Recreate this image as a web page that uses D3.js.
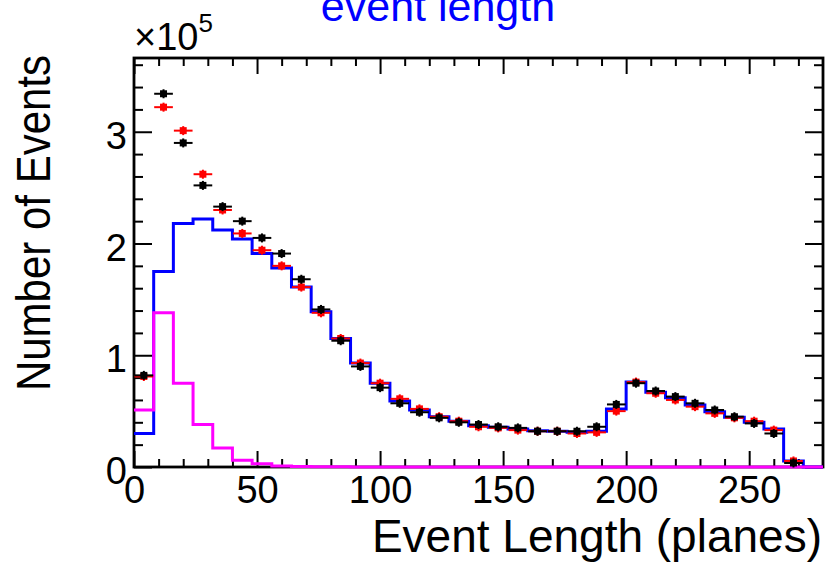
<!DOCTYPE html>
<html><head><meta charset="utf-8">
<script src="https://cdn.jsdelivr.net/npm/d3@7"></script>
<style>
body{margin:0;background:#fff}
svg{display:block}
text{font-family:"Liberation Sans",Arial,Helvetica,sans-serif}
</style>
</head><body>
<svg id="c" width="826" height="564"></svg>
<script>
// ---- data (counts per 8-plane bin) ----
const binLow = [0,8,16,24,32,40,48,56,64,72,80,88,96,104,112,120,128,136,144,152,160,168,176,184,192,200,208,216,224,232,240,248,256,264,272];
const binWidth = 8;
const dataBlack = [82000,334000,290000,252000,233000,220000,205000,191000,168000,141000,113000,90000,71000,57000,49000,44000,40000,38000,36000,35000,32000,32000,32000,36000,56000,75000,68000,63000,57000,51000,45000,39000,30000,3600,0];
const dataRed   = [81000,322000,301000,262000,230000,209000,194000,180000,161000,138000,115000,93000,75000,61000,52000,45000,41000,36000,35000,33000,32000,32000,30000,31000,50000,76000,66000,60000,54000,48000,44000,41000,33000,5400,0];
const mcBlue    = [30000,175000,218000,222000,212000,204000,191000,178000,161000,139000,115000,93000,75000,59000,51000,45000,41000,37000,35500,34000,32500,32000,31000,32000,52000,76000,67000,62000,55500,49500,44500,40000,34000,5400,0];
const mcMagenta = [51000,138000,75000,38000,17000,6000,3000,1000,500,300,200,100,100,0,0,0,0,0,0,0,0,0,0,0,0,0,0,0,0,0,0,0,0,0,0];
const xTickMajor = [0,50,100,150,200,250];
const xTickMinor = [10,20,30,40,60,70,80,90,110,120,130,140,160,170,180,190,210,220,230,240,260,270];
const yTickMajor = [0,100000,200000,300000];
const yTickMinor = [20000,40000,60000,80000,120000,140000,160000,180000,220000,240000,260000,280000,320000,340000,360000];

// ---- layout ----
const L=134, R=823, T=58, B=467;
const x = d3.scaleLinear().domain([0,280]).range([L,R]);
const y = d3.scaleLinear().domain([0,366000]).range([B,T]);
const svg = d3.select('#c');

// frame
svg.append('rect').attr('x',L).attr('y',T).attr('width',R-L).attr('height',B-T)
  .attr('fill','none').attr('stroke','#000').attr('stroke-width',2.8);

function styleAxis(g){
  g.select('.domain').remove();
  g.selectAll('line').attr('stroke','#000').attr('stroke-width',2);
  g.selectAll('text').attr('fill','#000').attr('font-size',38)
   .attr('font-family','"Liberation Sans",Arial,sans-serif');
}
// bottom
svg.append('g').attr('transform',`translate(0,${B})`)
  .call(d3.axisBottom(x).tickValues(xTickMajor).tickSize(-16).tickPadding(9).tickFormat(d3.format('d')))
  .call(styleAxis);
svg.append('g').attr('transform',`translate(0,${B})`)
  .call(d3.axisBottom(x).tickValues(xTickMinor).tickSize(-8).tickFormat(''))
  .call(styleAxis);
// top
svg.append('g').attr('transform',`translate(0,${T})`)
  .call(d3.axisTop(x).tickValues(xTickMajor).tickSize(-16).tickFormat(''))
  .call(styleAxis);
svg.append('g').attr('transform',`translate(0,${T})`)
  .call(d3.axisTop(x).tickValues(xTickMinor).tickSize(-8).tickFormat(''))
  .call(styleAxis);
// left
const gl = svg.append('g').attr('transform',`translate(${L},0)`)
  .call(d3.axisLeft(y).tickValues(yTickMajor).tickSize(-18).tickPadding(7).tickFormat(d=>d/100000))
  .call(styleAxis);
gl.selectAll('text').attr('dy','0.44em');
svg.append('g').attr('transform',`translate(${L},0)`)
  .call(d3.axisLeft(y).tickValues(yTickMinor).tickSize(-9).tickFormat(''))
  .call(styleAxis);
// right
svg.append('g').attr('transform',`translate(${R},0)`)
  .call(d3.axisRight(y).tickValues(yTickMajor).tickSize(-18).tickFormat(''))
  .call(styleAxis);
svg.append('g').attr('transform',`translate(${R},0)`)
  .call(d3.axisRight(y).tickValues(yTickMinor).tickSize(-9).tickFormat(''))
  .call(styleAxis);

// histograms
function histPath(vals){
  const pts = binLow.map((lo,i)=>[lo, vals[i]]);
  pts.push([binLow[binLow.length-1]+binWidth, vals[vals.length-1]]);
  pts.push([280, 0]);
  return d3.line().x(d=>x(d[0])).y(d=>y(d[1])).curve(d3.curveStepAfter)(pts);
}
const plot = svg.append('g');
plot.append('path').attr('d',histPath(mcBlue)).attr('fill','none').attr('stroke','#0000ff').attr('stroke-width',3);
plot.append('path').attr('d',histPath(mcMagenta)).attr('fill','none').attr('stroke','#ff00ff').attr('stroke-width',3);

function points(vals,color){
  const g = plot.append('g');
  binLow.forEach((lo,i)=>{
    const v = vals[i]; if(!(v>0)) return;
    const cx = x(lo+binWidth/2), cy = y(v);
    g.append('line').attr('x1',x(lo)+0.5).attr('x2',x(lo+binWidth)-0.5).attr('y1',cy).attr('y2',cy)
      .attr('stroke',color).attr('stroke-width',2);
    g.append('line').attr('x1',cx).attr('x2',cx).attr('y1',cy-4.5).attr('y2',cy+4.5)
      .attr('stroke',color).attr('stroke-width',2);
    g.append('rect').attr('x',cx-3.5).attr('y',cy-3.5).attr('width',7).attr('height',7).attr('fill',color);
  });
}
points(dataRed,'#ff0000');
points(dataBlack,'#000000');

// texts
svg.append('text').attr('x',438).attr('y',21).attr('text-anchor','middle')
  .attr('font-size',43).attr('fill','#0000ff').text('event length');
const ex = svg.append('text').attr('x',134).attr('y',50).attr('font-size',38).attr('fill','#000');
ex.append('tspan').text('\u00d710');
ex.append('tspan').attr('font-size',26).attr('dy',-18).text('5');
svg.append('text').attr('x',822).attr('y',552).attr('text-anchor','end')
  .attr('font-size',46).attr('fill','#000').text('Event Length (planes)');
svg.append('text').attr('transform','translate(50,55) rotate(-90) scale(1,1.15)').attr('text-anchor','end')
  .attr('font-size',42).attr('fill','#000').text('Number of Events');
</script>
</body></html>
